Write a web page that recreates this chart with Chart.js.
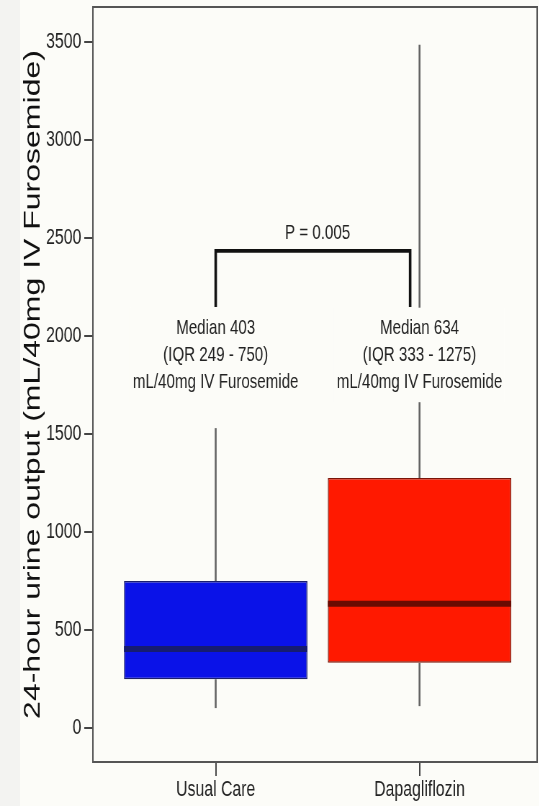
<!DOCTYPE html>
<html>
<head>
<meta charset="utf-8">
<script src="https://cdn.jsdelivr.net/npm/chart.js@4/dist/chart.umd.min.js"></script>
<style>
  html, body { margin: 0; padding: 0; overflow: hidden; }
  body {
    width: 539px; height: 806px;
    background: linear-gradient(to right, #f3f3f1 0, #f3f3f1 20px, #fcfcf8 20px);
  }
  /* the figure is drawn wide and squeezed horizontally to its printed proportions */
  #wrap {
    width: 749px; height: 806px;
    transform: scale(0.72, 1);
    transform-origin: 0 0;
  }
</style>
</head>
<body>
<div id="wrap"><canvas id="chart" width="749" height="806"></canvas></div>
<script>
// Groups and five-number summaries (mL / 40mg IV furosemide)
const categories   = ['Usual Care', 'Dapagliflozin'];
const lowerWhisker = [102, 112];
const q1           = [249, 333];
const medians      = [403, 634];
const q3           = [750, 1275];
const upperWhisker = [1530, 3485];

const yTicks = [0, 500, 1000, 1500, 2000, 2500, 3000, 3500];

const pValue = '0.005';
const unitLabel = 'mL/40mg IV Furosemide';

const boxFill    = ['#0a12e8', '#ff1900'];
const boxEdge    = ['#1a1f6e', '#7a1408'];
const medianInk  = ['#161c70', '#6a0b02'];

const BOX_WIDTH = 0.9;          // in x-axis units
const FONT = '"Liberation Sans", Arial, Helvetica, sans-serif';
const INK = '#222222';
const PAPER = '#fcfcf8';

// Boxes as floating bars spanning Q1..Q3
const boxData = categories.map((c, i) => ({ x: i + 1, y: [q1[i], q3[i]] }));

const datasets = [{
  type: 'bar',
  data: boxData,
  backgroundColor: boxFill,
  borderColor: boxEdge,
  borderWidth: 1.5,
  borderSkipped: false,
  barPercentage: BOX_WIDTH,
  categoryPercentage: 1,
  order: 2
}];

// Whiskers (no staples)
categories.forEach((c, i) => {
  [[lowerWhisker[i], q1[i]], [q3[i], upperWhisker[i]]].forEach(([a, b]) => {
    datasets.push({
      type: 'line',
      data: [{ x: i + 1, y: a }, { x: i + 1, y: b }],
      borderColor: '#626262',
      borderWidth: 2.6,
      pointRadius: 0,
      fill: false,
      order: 3
    });
  });
  // Median bar across the box
  datasets.push({
    type: 'line',
    data: [{ x: i + 1 - BOX_WIDTH / 2, y: medians[i] }, { x: i + 1 + BOX_WIDTH / 2, y: medians[i] }],
    borderColor: medianInk[i],
    borderWidth: 6,
    borderCapStyle: 'butt',
    pointRadius: 0,
    fill: false,
    order: 1
  });
});

// Significance bracket between the two groups
const bracketFoot = 2148, bracketTop = 2434;
datasets.push({
  type: 'line',
  data: [{ x: 1, y: bracketFoot }, { x: 1, y: bracketTop }, { x: 1.954, y: bracketTop }, { x: 1.954, y: bracketFoot }],
  borderColor: '#111111',
  borderWidth: 3.6,
  borderJoinStyle: 'miter',
  pointRadius: 0,
  fill: false,
  tension: 0,
  order: 0
});

// Plot frame drawn round the whole chart area
const framePlugin = {
  id: 'frame',
  afterDatasetsDraw(chart) {
    const { ctx, chartArea: a } = chart;
    ctx.save();
    ctx.strokeStyle = '#555555';
    ctx.lineWidth = 2;
    ctx.strokeRect(a.left, a.top, a.right - a.left, a.bottom - a.top);
    ctx.restore();
  }
};

// Text annotations: p-value and per-group median / IQR on an opaque label box
const notePlugin = {
  id: 'notes',
  afterDatasetsDraw(chart) {
    const { ctx, scales: { x, y } } = chart;
    ctx.save();
    ctx.font = '21px ' + FONT;
    ctx.textAlign = 'center';
    ctx.textBaseline = 'middle';
    ctx.fillStyle = INK;
    ctx.fillText('P = ' + pValue, x.getPixelForValue(1.5), y.getPixelForValue(2525));
    const firstLine = y.getPixelForValue(2041);
    const gap = 27;
    categories.forEach((c, i) => {
      const cx = x.getPixelForValue(i + 1);
      const lines = ['Median ' + medians[i], '(IQR ' + q1[i] + ' - ' + q3[i] + ')', unitLabel];
      const w = Math.max(...lines.map(t => ctx.measureText(t).width)) + 8;
      const top = firstLine - gap * 0.75;
      const h = gap * (lines.length - 1) + gap * 1.5;
      ctx.fillStyle = PAPER;
      ctx.fillRect(cx - w / 2, top, w, h);
      ctx.fillStyle = INK;
      lines.forEach((t, k) => ctx.fillText(t, cx, firstLine + k * gap));
    });
    ctx.restore();
  }
};

new Chart(document.getElementById('chart'), {
  type: 'bar',
  data: { datasets },
  plugins: [framePlugin, notePlugin],
  options: {
    responsive: false,
    animation: false,
    devicePixelRatio: 1,
    layout: { padding: { top: 7, right: 3, left: 0, bottom: 0 } },
    plugins: { legend: { display: false }, tooltip: { enabled: false } },
    scales: {
      x: {
        type: 'linear',
        min: 0.3975,
        max: 2.577,
        offset: false,
        afterBuildTicks: s => { s.ticks = categories.map((c, i) => ({ value: i + 1 })); },
        afterFit: s => { s.height = 44; s.paddingLeft = 0; s.paddingRight = 0; },
        grid: { offset: false, drawOnChartArea: false, drawTicks: true, tickLength: 14, color: '#444444', lineWidth: 2 },
        border: { display: false },
        ticks: {
          autoSkip: false,
          maxRotation: 0,
          padding: 3,
          color: INK,
          font: { family: FONT, size: 22, lineHeight: 1 },
          callback: v => categories[Math.round(v) - 1] || ''
        }
      },
      y: {
        type: 'linear',
        min: -173,
        max: 3678,
        afterBuildTicks: s => { s.ticks = yTicks.map(v => ({ value: v })); },
        afterFit: s => { s.width = 129; s.paddingTop = 0; s.paddingBottom = 0; },
        grid: { drawOnChartArea: false, drawTicks: true, tickLength: 12, color: '#444444', lineWidth: 2 },
        border: { display: false },
        ticks: {
          padding: 4,
          color: INK,
          font: { family: FONT, size: 22, lineHeight: 1 },
          callback: v => String(v)
        },
        title: {
          display: true,
          text: '24-hour urine output (mL/40mg IV Furosemide)',
          color: '#111111',
          padding: { top: 30, bottom: 0 },
          font: { family: FONT, size: 32, lineHeight: 1 }
        }
      }
    }
  }
});
</script>
</body>
</html>
